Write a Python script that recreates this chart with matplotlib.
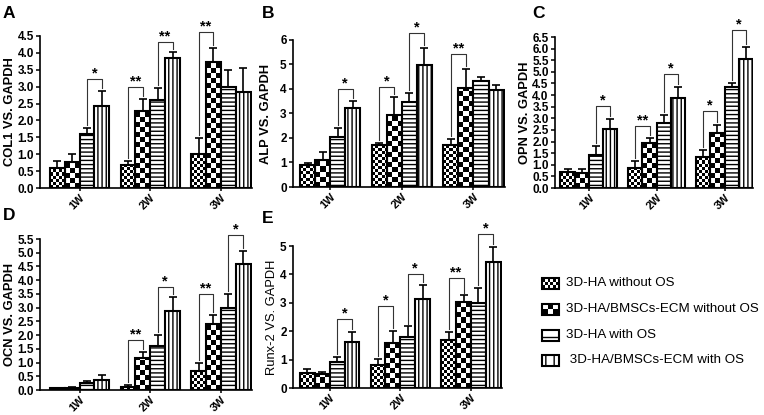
import numpy as np
import matplotlib
matplotlib.use("Agg")
import matplotlib.pyplot as plt
from matplotlib.patches import Rectangle

plt.rcParams['font.family'] = ['Liberation Sans', 'DejaVu Sans']
plt.rcParams['hatch.linewidth'] = 1.0

groups = ['1W', '2W', '3W']
series = ['3D-HA without OS', '3D-HA/BMSCs-ECM without OS',
          '3D-HA with OS', ' 3D-HA/BMSCs-ECM with OS']

# COL1
col1_mean = [[0.60, 0.68, 1.02], [0.78, 2.28, 3.72], [1.60, 2.62, 2.99], [2.44, 3.86, 2.83]]
col1_err = [[0.21, 0.13, 0.46], [0.22, 0.35, 0.43], [0.17, 0.34, 0.50], [0.43, 0.16, 0.73]]
col1_sig = [(0, 2, 3, 3.23, '*'), (1, 0, 1, 3.00, '**'), (1, 2, 3, 4.33, '**'), (2, 0, 1, 4.63, '**')]

# ALP
alp_mean = [[0.90, 1.70, 1.70], [1.11, 2.94, 4.05], [2.06, 3.48, 4.32], [3.22, 4.98, 3.97]]
alp_err = [[0.07, 0.10, 0.25], [0.33, 0.74, 0.78], [0.34, 0.36, 0.19], [0.28, 0.70, 0.18]]
alp_sig = [(0, 2, 3, 3.99, '*'), (1, 0, 1, 4.07, '*'), (1, 2, 3, 6.27, '*'), (2, 0, 1, 5.41, '**')]

# OPN
opn_mean = [[0.68, 0.88, 1.35], [0.63, 1.92, 2.38], [1.40, 2.80, 4.33], [2.56, 3.86, 5.57]]
opn_err = [[0.15, 0.28, 0.30], [0.20, 0.25, 0.33], [0.40, 0.33, 0.18], [0.43, 0.47, 0.48]]
opn_sig = [(0, 2, 3, 3.52, '*'), (1, 0, 1, 2.69, '**'), (1, 2, 3, 4.92, '*'),
           (2, 0, 1, 3.31, '*'), (2, 2, 3, 6.80, '*')]

# OCN
ocn_mean = [[0.07, 0.12, 0.69], [0.09, 1.15, 2.40], [0.27, 1.60, 3.00], [0.38, 2.86, 4.59]]
ocn_err = [[0.02, 0.06, 0.28], [0.03, 0.25, 0.34], [0.05, 0.40, 0.50], [0.17, 0.52, 0.48]]
ocn_sig = [(1, 0, 1, 1.82, '**'), (1, 2, 3, 3.75, '*'), (2, 0, 1, 3.49, '**'), (2, 2, 3, 5.66, '*')]

# Runx-2
runx_mean = [[0.53, 0.80, 1.69], [0.50, 1.60, 3.04], [0.93, 1.81, 3.00], [1.63, 3.12, 4.42]]
runx_err = [[0.14, 0.21, 0.27], [0.05, 0.42, 0.22], [0.17, 0.36, 0.52], [0.33, 0.50, 0.55]]
runx_sig = [(0, 2, 3, 2.42, '*'), (1, 0, 1, 2.89, '*'), (1, 2, 3, 4.00, '*'),
            (2, 0, 1, 3.86, '**'), (2, 2, 3, 5.43, '*')]

W, H = 764, 415
fig = plt.figure(figsize=(W / 100, H / 100), dpi=100)

bw = 0.21
# pattern per series: ('checker', square px) or ('hatch', pattern)
patterns = [('checker', 3), ('checker', 5), ('hatch', '----'), ('hatch', '||||')]


def add_checker(ax, rect, sq):
    x0, w, h = rect.get_x(), rect.get_width(), rect.get_height()
    y0 = rect.get_y()
    p0 = ax.transData.transform((x0, y0))
    p1 = ax.transData.transform((x0 + w, y0 + h))
    wpx, hpx = abs(p1[0] - p0[0]), abs(p1[1] - p0[1])
    if hpx < 0.5:
        return
    nc = max(1, int(round(wpx / sq)))
    nr = int(np.ceil(hpx / sq))
    board = np.indices((nr, nc)).sum(axis=0) % 2
    top = y0 + nr * sq * h / hpx
    im = ax.imshow(board, cmap='gray', vmin=0, vmax=1, extent=(x0, x0 + w, y0, top),
                   origin='lower', interpolation='nearest', aspect='auto', zorder=1.5)
    im.set_clip_path(rect)


def panel(box, means, errs, sig, ymax, ystep, ylabel, xlim, fmt, lab_x, bold_label=True):
    l, t, r, b = box
    ax = fig.add_axes([l / W, 1 - b / H, (r - l) / W, (b - t) / H])
    ax.set_xlim(*xlim)
    ax.set_ylim(0, ymax)
    x = np.arange(len(groups))
    for k in range(4):
        xs = x + (k - 1.5) * bw
        kind, p = patterns[k]
        if kind == 'checker':
            bars = ax.bar(xs, means[k], bw, facecolor='none', edgecolor='black',
                          linewidth=1.5, zorder=2)
            for rect in bars:
                add_checker(ax, rect, p)
        else:
            ax.bar(xs, means[k], bw, facecolor='white', edgecolor='black',
                   hatch=p, linewidth=1.5, zorder=2)
        ax.errorbar(xs, means[k], yerr=[np.zeros(3), errs[k]], fmt='none',
                    ecolor='black', elinewidth=1.2, capsize=3, capthick=1.2, zorder=3)
    pad = 0.02 * ymax
    for g, i, j, hgt, lab in sig:
        xi = g + (i - 1.5) * bw
        xj = g + (j - 1.5) * bw
        bi = means[i][g] + errs[i][g] + pad
        bj = means[j][g] + errs[j][g] + pad
        ax.plot([xi, xi, xj, xj], [bi, hgt, hgt, bj], color='#333333', lw=0.8,
                clip_on=False, zorder=3)
        ax.text((xi + xj) / 2, hgt - 0.01 * ymax, lab, ha='center', va='bottom',
                fontsize=10.5, fontweight='bold', clip_on=False)
    ax.set_xlim(*xlim)
    ax.set_ylim(0, ymax)
    ticks = np.arange(0, ymax + 1e-9, ystep)
    ax.set_yticks(ticks)
    ax.set_yticklabels([fmt % v for v in ticks], fontsize=8.5, fontweight='bold')
    ax.set_xticks(x)
    ax.set_xticklabels(groups, rotation=45, ha='right', rotation_mode='anchor',
                       fontsize=8, fontweight='bold')
    ax.tick_params(axis='y', length=3, width=1.1, pad=1.5)
    ax.tick_params(axis='x', length=2.5, width=1.1, pad=1)
    for s in ['top', 'right']:
        ax.spines[s].set_visible(False)
    for s in ['left', 'bottom']:
        ax.spines[s].set_linewidth(1.2)
    ax.set_ylabel(ylabel, fontsize=9.3, fontweight='bold' if bold_label else 'normal')
    ax.yaxis.set_label_coords(lab_x, 0.5)
    return ax


panel((40, 36, 252, 188), col1_mean, col1_err, col1_sig, 4.5, 0.5,
      'COL1 VS. GAPDH', (-0.56, 2.44), '%.1f', -0.115)
panel((293, 40, 505, 187), alp_mean, alp_err, alp_sig, 6, 1,
      'ALP VS. GAPDH', (-0.52, 2.44), '%d', -0.10)
panel((555, 37, 753, 188), opn_mean, opn_err, opn_sig, 6.5, 0.5,
      'OPN VS. GAPDH', (-0.5, 2.42), '%.1f', -0.12)
panel((40, 239, 252, 390), ocn_mean, ocn_err, ocn_sig, 5.5, 0.5,
      'OCN VS. GAPDH', (-0.56, 2.44), '%.1f', -0.115)
panel((293, 246, 502, 388), runx_mean, runx_err, runx_sig, 5, 1,
      'Runx-2 VS. GAPDH', (-0.52, 2.44), '%d', -0.07, bold_label=False)

for lab, px, py in [('A', 3, 6), ('B', 262, 6), ('C', 532, 6), ('D', 3, 208), ('E', 262, 211)]:
    fig.text(px / W, 1 - py / H, lab, fontsize=12.5, fontweight='bold', va='top', ha='left')

# legend drawn in pixel coordinates
lax = fig.add_axes([0, 0, 1, 1])
lax.set_xlim(0, W)
lax.set_ylim(0, H)
lax.axis('off')
leg_y = [283, 309, 335, 360]
for k in range(4):
    yc = H - leg_y[k]
    kind, p = patterns[k]
    if kind == 'checker':
        rect = Rectangle((542, yc - 5.5), 17, 11, facecolor='none', edgecolor='black',
                         linewidth=1.5, zorder=2)
        lax.add_patch(rect)
        add_checker(lax, rect, p)
    else:
        rect = Rectangle((542, yc - 5.5), 17, 11, facecolor='white', edgecolor='black',
                         hatch=p[:2], linewidth=1.5, zorder=2)
        lax.add_patch(rect)
    lax.text(566, yc, series[k], fontsize=9.6, va='center', ha='left')

fig.savefig('out.png', dpi=100)
